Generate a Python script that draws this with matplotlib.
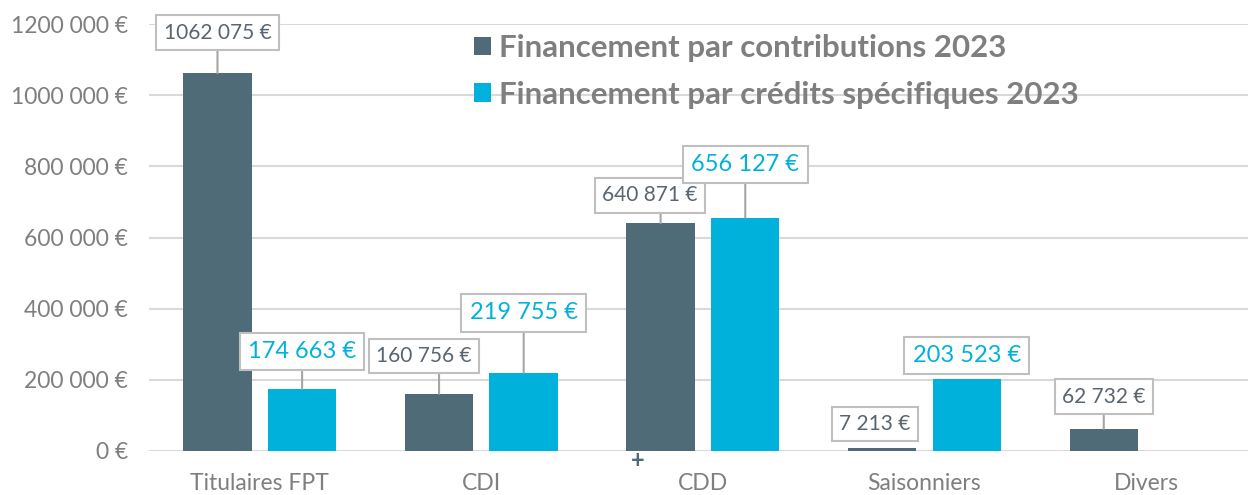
import matplotlib.pyplot as plt
from matplotlib.patches import Rectangle
import numpy as np

# data
categories = ["Titulaires FPT", "CDI", "CDD", "Saisonniers", "Divers"]
contributions = [1062075, 160756, 640871, 7213, 62732]
credits = [174663, 219755, 656127, 203523, None]
contrib_labels = ["1062 075 €", "160 756 €", "640 871 €", "7 213 €", "62 732 €"]
credit_labels = ["174 663 €", "219 755 €", "656 127 €", "203 523 €", None]
yticks = [0, 200000, 400000, 600000, 800000, 1000000, 1200000]
ytick_labels = ["0 €", "200 000 €", "400 000 €", "600 000 €", "800 000 €", "1000 000 €", "1200 000 €"]

dark = "#4F6B77"
cyan = "#00B2DB"
grey = "#7F7F7F"

plt.rcParams['font.family'] = ['Lato', 'DejaVu Sans']

fig = plt.figure(figsize=(12.48, 4.95), dpi=100)
ax = fig.add_axes([0.1194, 0.0889, 0.8806, 0.8626])

x = np.arange(len(categories))
w = 0.309
off = 0.191

ax.bar(x - off, contributions, w, color=dark, zorder=3, label="Financement par contributions 2023")
cx = [xi + off for xi, v in zip(x, credits) if v is not None]
cv = [v for v in credits if v is not None]
ax.bar(cx, cv, w, color=cyan, zorder=3, label="Financement par crédits spécifiques 2023")

ax.set_xlim(-0.5, 4.46)
ax.set_ylim(0, 1200000)
ax.set_yticks(yticks)
ax.set_yticklabels(ytick_labels)
ax.set_xticks(x)
ax.set_xticklabels(categories)
ax.tick_params(length=0, colors=grey)
ax.tick_params(axis='y', labelsize=16.5, pad=15)
ax.tick_params(axis='x', labelsize=16.5, pad=16)
for s in ax.spines.values():
    s.set_visible(False)
ax.grid(axis='y', color="#D9D9D9", linewidth=1.5, zorder=0)

# white area behind the legend hides the gridlines
ax.add_patch(Rectangle((0.319, 0.76), 0.607, 0.205, transform=fig.transFigure,
                       fc="white", ec="none", zorder=1, clip_on=False))

# label offsets in pixels (layout only): box centre relative to bar top
contrib_off = [(0, 40.5), (-15, 38), (-10.5, 27.5), (-7, 24.5), (0, 32)]
credit_off = [(0, 37.5), (0, 60), (0, 53), (0, 23), None]

line = dict(arrowstyle="-", color="#A6A6A6", lw=1.5, shrinkA=0, shrinkB=0)


def label(xb, val, text, offset, size, color, half_h):
    # vertical leader from bar top to the bottom of the box
    if offset[1] - half_h > 8:
        ax.annotate("", xy=(xb, val), xytext=(0, offset[1] - half_h),
                    textcoords="offset pixels", arrowprops=line, zorder=4)
    ax.annotate(text, xy=(xb, val), xytext=offset, textcoords="offset pixels",
                ha="center", va="center", fontsize=size, color=color,
                bbox=dict(boxstyle="square,pad=0.35", fc="white", ec="#BFBFBF", lw=1.5),
                zorder=5)


for i in range(len(categories)):
    label(x[i] - off, contributions[i], contrib_labels[i], contrib_off[i], 15, "#596570", 17)
    if credits[i] is not None:
        label(x[i] + off, credits[i], credit_labels[i], credit_off[i], 17, cyan, 18)

fig.text(638 / 1248, 1 - 461 / 495, "+", ha="center", va="center",
         fontsize=17, fontweight="bold", color=dark)

leg = ax.legend(loc="upper left", bbox_to_anchor=(474 / 1248, 1 - 34 / 495),
                bbox_transform=fig.transFigure, frameon=False,
                prop={'size': 22.5, 'weight': 'bold'}, handlelength=0.55,
                handleheight=0.55, handletextpad=0.26, labelspacing=0.6,
                borderpad=0, borderaxespad=0)
for t in leg.get_texts():
    t.set_color("#7F7F7F")

fig.savefig("out.png", dpi=100)
